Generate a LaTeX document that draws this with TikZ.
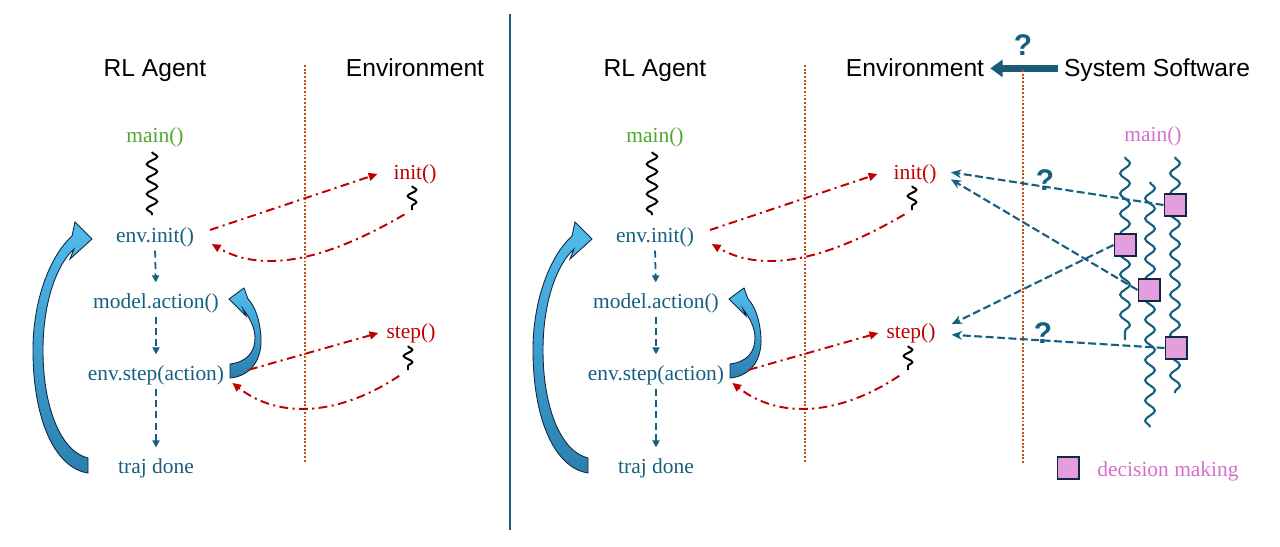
\documentclass[tikz,border=0pt]{standalone}
\usepackage{fontspec}
\setmainfont{Liberation Serif}
\setsansfont{Liberation Sans}
\usetikzlibrary{arrows.meta,decorations.pathmorphing}

\definecolor{agentblue}{HTML}{156082}
\definecolor{envred}{HTML}{C00000}
\definecolor{maingreen}{HTML}{4EA72E}
\definecolor{syspink}{HTML}{D86ECC}
\definecolor{boxpink}{HTML}{E59EDD}
\definecolor{boxline}{HTML}{0E2841}
\definecolor{sepbrown}{HTML}{C04F15}
\definecolor{loopblue}{HTML}{52BCEE}
\definecolor{loopdark}{HTML}{2B7FAE}
\definecolor{sysarrowblue}{HTML}{1B5A78}

\tikzset{
  header/.style={font=\sffamily\fontsize{14}{17}\selectfont,anchor=base,text height=0.98em,text depth=0pt},
  code/.style={font=\fontsize{12.2}{14.5}\selectfont,inner sep=1pt},
  agentcall/.style={code,text=agentblue},
  envcall/.style={code,text=envred},
  wave/.style={line width=1.1pt,decorate,decoration={snake,segment length=8.5pt,amplitude=3pt}},
  smallwave/.style={line width=1.1pt,decorate,decoration={snake,segment length=7pt,amplitude=2.5pt}},
  thread/.style={agentblue,line width=1.2pt,decorate,decoration={snake,segment length=11.5pt,amplitude=2.8pt}},
  flow/.style={agentblue,line width=1pt,dash pattern=on 4pt off 2.5pt,-{Triangle[length=4pt,width=4pt]},shorten <=1pt,shorten >=5pt},
  call/.style={envred,line width=1.1pt,dash pattern=on 5pt off 2.5pt on 1.2pt off 2.5pt,-{Triangle[length=5pt,width=4.5pt]}},
  ask/.style={agentblue,line width=1.2pt,dash pattern=on 4.5pt off 2pt,-{Stealth[length=6pt,width=5pt]}},
  envsep/.style={sepbrown,line width=1.1pt,densely dotted},
  loopfill/.style={top color=loopblue,bottom color=loopdark,draw=boxline,line width=0.5pt},
  decision/.style={draw=boxline,fill=boxpink,line width=0.6pt,minimum size=12.5pt,inner sep=0pt},
  qmark/.style={font=\sffamily\bfseries\fontsize{17}{20}\selectfont,text=agentblue}
}

\begin{document}
\begin{tikzpicture}[x=0.02cm,y=-0.02cm]
\useasboundingbox (0,0) rectangle (1280,547);

% both panels share the agent / environment part
\foreach \p/\dx in {L/0,R/500}{
\begin{scope}[shift={(\dx,0)}]
\node[header] at (155,77) (agent\p) {RL Agent};
\node[header] at (415,77) (env\p) {Environment};
\draw[envsep] (305,65) -- (305,463);

\node[code,text=maingreen] at (155,137) (main\p) {main()};
\node[agentcall] at (155,237) (envinit\p) {env.init()};
\node[agentcall] at (156,303) (model\p) {model.action()};
\node[agentcall] at (156,375) (envstep\p) {env.step(action)};
\node[agentcall] at (156,468) (done\p) {traj done};
\node[envcall] at (415,174) (init\p) {init()};
\node[envcall] at (411,333) (step\p) {step()};

\draw[wave] (152,152) -- (152,215);
\draw[smallwave] (412,186) -- (412,210) coordinate (initend\p);
\draw[smallwave] (408,346) -- (408,370) coordinate (stepend\p);

\draw[flow] (envinit\p.south) -- (model\p.north);
\draw[flow] (model\p.south) -- (envstep\p.north);
\draw[flow] (envstep\p.south) -- (done\p.north);

\path[loopfill] (88,473) .. controls (55,468) and (33,420) .. (33,350)
  .. controls (33,300) and (50,256) .. (72,236) -- (75,222) -- (92,239) -- (70,259) -- (74,249)
  .. controls (58,263) and (43,300) .. (43,350) .. controls (43,410) and (62,452) .. (88,458) -- cycle;
\path[loopfill] (230,378) .. controls (252,376) and (262,358) .. (261,338)
  .. controls (260,320) and (255,306) .. (248,299) -- (244,288) -- (229,299) -- (246,316) -- (243,309)
  .. controls (250,318) and (255,328) .. (255,338) .. controls (255,352) and (247,362) .. (230,364) -- cycle;

\draw[call] ([xshift=8pt,yshift=4pt]envinit\p.east) -- ([xshift=-8pt]init\p.west);
\draw[call,shorten <=5pt] (initend\p) .. controls (330,258) and (265,275) .. ([xshift=9pt,yshift=-4pt]envinit\p.east);
\draw[call] ([xshift=13pt,yshift=3pt]envstep\p.east) -- ([xshift=-3.5pt]step\p.west);
\draw[call,shorten <=6pt] (stepend\p) .. controls (340,415) and (280,420) .. ([xshift=3.5pt,yshift=-4.5pt]envstep\p.east);
\end{scope}
}

\draw[line width=1pt,agentblue] (510,14) -- (510,530);

% system software side
\node[header] at (1157,77) (sys) {System Software};
\draw[sysarrowblue,line width=3.8pt,-{Triangle[length=7pt,width=9.5pt]}] (sys.west) -- (envR.east);
\node[qmark] at (1023,45) (qsys) {?};
\draw[envsep] (1023,70) -- (1023,463);

\node[code,text=syspink] at (1153,136) (mainsys) {main()};
\draw[thread] (1125,157) -- (1125,340);
\draw[thread] (1150,182) -- (1150,427);
\draw[thread] (1175,157) -- (1175,393);
\node[decision] at (1125,245) (dmA) {};
\node[decision] at (1149,290) (dmB) {};
\node[decision] at (1175,205) (dmC) {};
\node[decision] at (1176,348) (dmD) {};

\draw[ask] (dmC.west) -- ([xshift=7pt,yshift=1pt]initR.east);
\draw[ask] (dmB.west) -- ([xshift=7pt,yshift=-3pt]initR.east);
\draw[ask] (dmA.west) -- ([xshift=8pt,yshift=5pt]stepR.east);
\draw[ask] (dmD.west) -- ([xshift=8pt,yshift=-1pt]stepR.east);
\node[qmark] at (1045,180) (qinit) {?};
\node[qmark] at (1043,333) (qstep) {?};

\node[decision] at (1068,468) (legendbox) {};
\node[code,text=syspink] at (1168,471) (legend) {decision making};
\end{tikzpicture}
\end{document}
